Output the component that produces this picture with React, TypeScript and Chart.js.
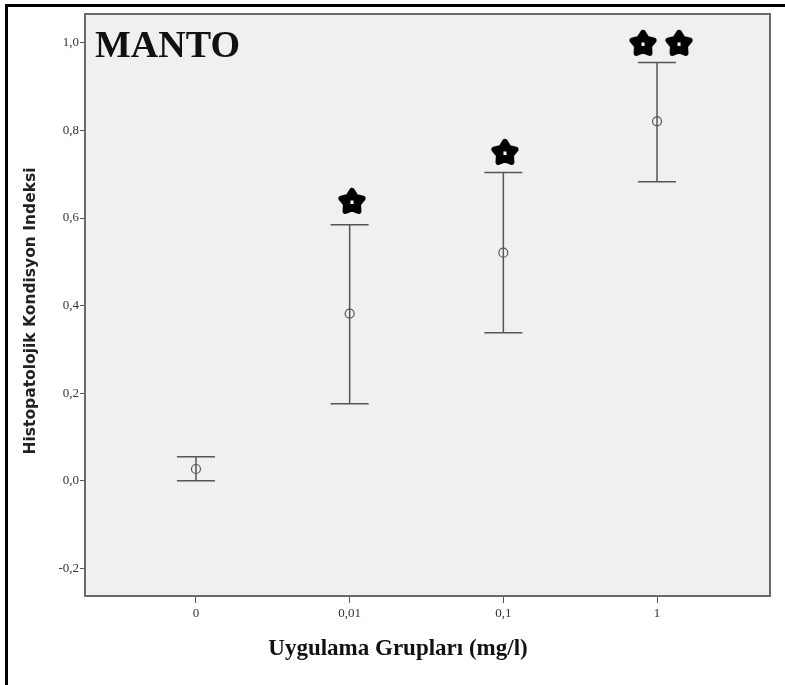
import React, { useEffect, useRef } from "react";
import { Chart, registerables } from "chart.js";

Chart.register(...registerables);

// ---- data ----
const categories = ["0", "0,01", "0,1", "1"];
const means = [0.027, 0.382, 0.521, 0.821];
const lowerCI = [0.0, 0.176, 0.338, 0.683];
const upperCI = [0.055, 0.585, 0.704, 0.955];
const starX = [1.015, 2.01, 2.909, 3.143];
const starY = [0.639, 0.751, 1.0, 1.0];
const yTicks = [-0.2, 0, 0.2, 0.4, 0.6, 0.8, 1.0];
const yTickLabels = ["-0,2", "0,0", "0,2", "0,4", "0,6", "0,8", "1,0"];

const panelTitle = "MANTO";
const xTitle = "Uygulama Grupları (mg/l)";
const yTitle = "Histopatolojik Kondisyon Indeksi";

const GRAY = "#555555";

function makeStar(): HTMLCanvasElement {
  const size = 32;
  const c = document.createElement("canvas");
  c.width = size;
  c.height = size;
  const g = c.getContext("2d")!;
  g.translate(size / 2, size / 2 + 1);
  const R = 11.4;
  const r = 6.6;
  g.beginPath();
  for (let i = 0; i < 10; i++) {
    const a = -Math.PI / 2 + (i * Math.PI) / 5;
    const rad = i % 2 === 0 ? R : r;
    const px = Math.cos(a) * rad;
    const py = Math.sin(a) * rad;
    if (i === 0) g.moveTo(px, py);
    else g.lineTo(px, py);
  }
  g.closePath();
  g.lineJoin = "round";
  g.lineWidth = 5.5;
  g.fillStyle = "#000";
  g.strokeStyle = "#000";
  g.fill();
  g.stroke();
  g.fillStyle = "#fff";
  g.fillRect(-1.5, -1.5, 3, 3.5);
  return c;
}

const decorPlugin = {
  id: "decor",
  beforeDraw(chart: any) {
    const { ctx, chartArea: a, width, height } = chart;
    ctx.save();
    ctx.fillStyle = "#ffffff";
    ctx.fillRect(0, 0, width, height);
    ctx.fillStyle = "#f0f0f0";
    ctx.fillRect(a.left, a.top, a.right - a.left, a.bottom - a.top);
    ctx.restore();
  },
  afterDraw(chart: any) {
    const { ctx, chartArea: a, width, height } = chart;
    ctx.save();
    // plot frame
    ctx.strokeStyle = "#6a6a6a";
    ctx.lineWidth = 2;
    ctx.strokeRect(a.left, a.top, a.right - a.left, a.bottom - a.top);
    // outer border (top + left)
    ctx.fillStyle = "#000";
    ctx.fillRect(5, 4, width - 5, 3);
    ctx.fillRect(5, 4, 3, height - 4);
    // panel title
    ctx.fillStyle = "#111";
    ctx.font = "bold 38px 'Liberation Serif'";
    ctx.textAlign = "left";
    ctx.textBaseline = "alphabetic";
    ctx.fillText(panelTitle, a.left + 10, a.top + 43);
    // x title
    ctx.font = "bold 23px 'Liberation Serif'";
    ctx.textAlign = "center";
    ctx.fillText(xTitle, 398, 655);
    // y title
    ctx.translate(31, 311);
    ctx.rotate(-Math.PI / 2);
    ctx.font = "bold 15.5px 'DejaVu Sans'";
    ctx.textBaseline = "middle";
    ctx.fillStyle = "#222";
    ctx.fillText(yTitle, 0, 0);
    ctx.restore();
  },
};

export default function App() {
  const ref = useRef<HTMLCanvasElement>(null);

  useEffect(() => {
    if (!ref.current) return;
    const star = makeStar();
    const errorSets = categories.map((_, i) => ({
      type: "line" as const,
      data: [
        { x: i, y: lowerCI[i] },
        { x: i, y: upperCI[i] },
      ],
      showLine: true,
      borderColor: GRAY,
      borderWidth: 1.5,
      pointStyle: "line" as const,
      pointRadius: 19,
      pointBorderWidth: 1.5,
      pointBorderColor: GRAY,
      fill: false,
      clip: false,
    }));
    const chart = new Chart(ref.current, {
      type: "scatter",
      data: {
        datasets: [
          ...errorSets,
          {
            data: means.map((m, i) => ({ x: i, y: m })),
            pointStyle: "circle",
            pointRadius: 4.5,
            borderColor: GRAY,
            borderWidth: 1.2,
            backgroundColor: "rgba(0,0,0,0)",
          },
          {
            data: starX.map((x, i) => ({ x, y: starY[i] })),
            pointStyle: star as any,
            pointRadius: 14,
            clip: false,
          },
        ] as any,
      },
      options: {
        responsive: false,
        animation: false,
        devicePixelRatio: 1,
        events: [],
        layout: { autoPadding: false, padding: { left: 0, top: 14, right: 15, bottom: 0 } },
        plugins: {
          legend: { display: false },
          tooltip: { enabled: false },
          title: { display: false },
        },
        scales: {
          x: {
            type: "linear",
            min: -0.722,
            max: 3.735,
            afterBuildTicks: (s: any) => {
              s.ticks = categories.map((_, i) => ({ value: i }));
            },
            afterFit: (s: any) => {
              s.height = 89;
            },
            ticks: {
              callback: (v: any) => categories[Math.round(Number(v))] ?? "",
              font: { family: "'Liberation Serif'", size: 13 },
              color: "#333",
              padding: 3,
              maxRotation: 0,
            },
            grid: {
              drawOnChartArea: false,
              drawTicks: true,
              tickLength: 7,
              color: GRAY,
            },
            border: { display: false },
          },
          y: {
            type: "linear",
            min: -0.263,
            max: 1.066,
            afterBuildTicks: (s: any) => {
              s.ticks = yTicks.map((v) => ({ value: v }));
            },
            afterFit: (s: any) => {
              s.width = 85;
            },
            ticks: {
              callback: (v: any) => {
                const idx = yTicks.findIndex((t) => Math.abs(t - Number(v)) < 1e-6);
                return idx >= 0 ? yTickLabels[idx] : "";
              },
              font: { family: "'Liberation Serif'", size: 13 },
              color: "#333",
              padding: 1,
            },
            grid: {
              drawOnChartArea: false,
              drawTicks: true,
              tickLength: 5,
              color: GRAY,
            },
            border: { display: false },
          },
        },
      },
      plugins: [decorPlugin],
    });
    return () => chart.destroy();
  }, []);

  return (
    <div
      style={{
        position: "absolute",
        left: 0,
        top: 0,
        width: 785,
        height: 685,
        background: "#fff",
      }}
    >
      <canvas ref={ref} width={785} height={685} style={{ display: "block" }} />
    </div>
  );
}
